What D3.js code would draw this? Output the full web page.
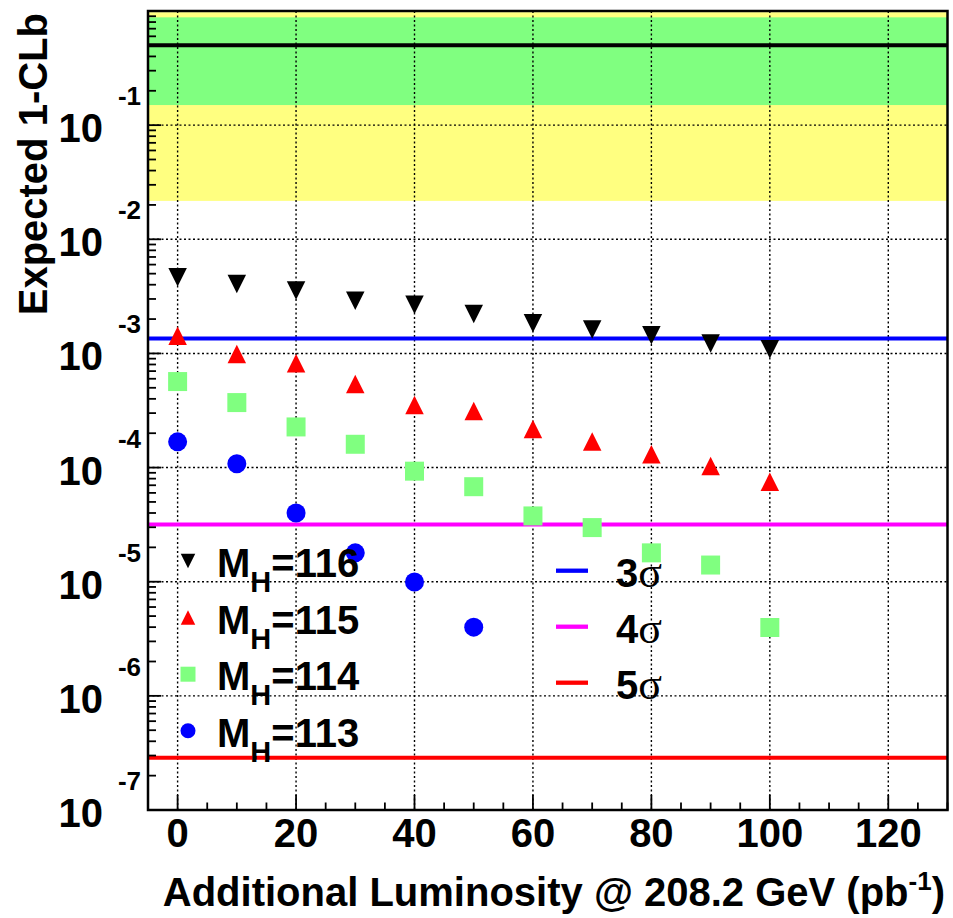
<!DOCTYPE html>
<html><head><meta charset="utf-8">
<script src="https://cdn.jsdelivr.net/npm/d3@7"></script>
<style>html,body{margin:0;padding:0;background:#fff;} text{font-family:"Liberation Sans",Arial,sans-serif;font-weight:bold;}</style>
</head><body>
<script>
// ---- data ----
const lumi = [0,10,20,30,40,50,60,70,80,90,100];
const mh116 = [4.64e-3,4.05e-3,3.55e-3,2.90e-3,2.67e-3,2.21e-3,1.84e-3,1.62e-3,1.44e-3,1.22e-3,1.09e-3];
const mh115 = [1.43e-3,9.9e-4,8.2e-4,5.4e-4,3.53e-4,3.13e-4,2.18e-4,1.69e-4,1.31e-4,1.03e-4,7.5e-5];
const mh114 = [5.67e-4,3.71e-4,2.27e-4,1.60e-4,9.3e-5,6.8e-5,3.77e-5,2.98e-5,1.79e-5,1.40e-5,3.97e-6];
const mh113 = [1.68e-4,1.08e-4,4.0e-5,1.79e-5,9.96e-6,4.0e-6];
const seriesNames = ["116","115","114","113"];
const medianValue = 0.5;
const band1 = [0.150, 0.880];
const band2 = [0.0217, 0.977];
const sigmaNames = ["3","4","5"];
const sigmaValues = [1.35e-3, 3.17e-5, 2.87e-7];
const xTickValues = [0,20,40,60,80,100,120];
const yDecades = [1,2,3,4,5,6,7];

// ---- layout ----
const W = 953, H = 918;
const L = 148, R = 947.5, T = 11, B = 810;
const x = d3.scaleLinear().domain([-5,130]).range([L,R]);
const y = d3.scaleLog().domain([1e-7,1]).range([B,T]);

const svg = d3.select("body").append("svg").attr("width",W).attr("height",H);
svg.append("rect").attr("width",W).attr("height",H).attr("fill","#fff");

const clip = svg.append("clipPath").attr("id","pc").append("rect")
  .attr("x",L).attr("y",T).attr("width",R-L).attr("height",B-T);
const g = svg.append("g").attr("clip-path","url(#pc)");

// bands
g.append("rect").attr("x",L).attr("width",R-L)
  .attr("y",y(band2[1])).attr("height",y(band2[0])-y(band2[1])).attr("fill","#ffff80");
g.append("rect").attr("x",L).attr("width",R-L)
  .attr("y",y(band1[1])).attr("height",y(band1[0])-y(band1[1])).attr("fill","#80ff80");

// grid
xTickValues.forEach(v=>{
  g.append("line").attr("x1",x(v)).attr("x2",x(v)).attr("y1",T).attr("y2",B)
   .attr("stroke","#000").attr("stroke-width",1.4).attr("stroke-dasharray","2,2.5");
});
yDecades.forEach(n=>{
  const yy = y(Math.pow(10,-n));
  g.append("line").attr("x1",L).attr("x2",R).attr("y1",yy).attr("y2",yy)
   .attr("stroke","#000").attr("stroke-width",1.4).attr("stroke-dasharray","2,2.5");
});

// median line
g.append("line").attr("x1",L).attr("x2",R).attr("y1",y(medianValue)).attr("y2",y(medianValue))
  .attr("stroke","#000").attr("stroke-width",4);

// sigma lines
const sigColors = ["#0000ff","#ff00ff","#ff0000"];
sigmaValues.forEach((v,i)=>{
  g.append("line").attr("x1",L).attr("x2",R).attr("y1",y(v)).attr("y2",y(v))
   .attr("stroke",sigColors[i]).attr("stroke-width",4);
});

// markers
function markerPath(type, cx, cy, s){
  const h = s/2;
  if(type==="down") return `M${cx-h},${cy-h}L${cx+h},${cy-h}L${cx},${cy+h}Z`;
  if(type==="up") return `M${cx-h},${cy+h}L${cx+h},${cy+h}L${cx},${cy-h}Z`;
  if(type==="square") return `M${cx-h},${cy-h}h${s}v${s}h${-s}Z`;
  return `M${cx-h},${cy}a${h},${h} 0 1,0 ${s},0a${h},${h} 0 1,0 ${-s},0Z`;
}
const series = [
  {vals:mh116, type:"down", color:"#000000"},
  {vals:mh115, type:"up", color:"#ff0000"},
  {vals:mh114, type:"square", color:"#80ff80"},
  {vals:mh113, type:"circle", color:"#0000ff"}
];
series.forEach(s=>{
  g.selectAll(null).data(s.vals).enter().append("path")
   .attr("d",(d,i)=>markerPath(s.type, x(lumi[i]), y(d), s.type==="square"?19:(s.type==="circle"?19:18.5)))
   .attr("fill",s.color);
});

// frame
svg.append("rect").attr("x",L).attr("y",T).attr("width",R-L).attr("height",B-T)
  .attr("fill","none").attr("stroke","#000").attr("stroke-width",2.5);

// x ticks
d3.range(-5,131,5).forEach(v=>{
  const major = v%20===0;
  svg.append("line").attr("x1",x(v)).attr("x2",x(v)).attr("y1",B).attr("y2",B-(major?15:7.5))
    .attr("stroke","#000").attr("stroke-width",1.8);
});
xTickValues.forEach(v=>{
  svg.append("text").attr("x",x(v)).attr("y",847).attr("text-anchor","middle")
    .attr("font-size",40).text(v);
});

// y ticks
for(let n=7;n>=1;n--){
  const base = Math.pow(10,-n);
  for(let k=1;k<=9;k++){
    const v = base*k;
    if(v>1) continue;
    svg.append("line").attr("x1",L).attr("x2",L+(k===1?13:8)).attr("y1",y(v)).attr("y2",y(v))
      .attr("stroke","#000").attr("stroke-width",1.8);
  }
}
yDecades.forEach(n=>{
  const yy = y(Math.pow(10,-n));
  svg.append("text").attr("x",103).attr("y",yy+17).attr("text-anchor","end")
    .attr("font-size",40).text("10");
  svg.append("text").attr("x",141).attr("y",yy-20).attr("text-anchor","end")
    .attr("font-size",26).text("-"+n);
});

// axis titles
svg.append("text").attr("transform","translate(47,13) rotate(-90)")
  .attr("text-anchor","end").attr("font-size",40).text("Expected 1-CLb");
const xt = svg.append("text").attr("x",945).attr("y",906).attr("text-anchor","end").attr("font-size",40);
xt.append("tspan").text("Additional Luminosity @ 208.2 GeV (pb");
xt.append("tspan").attr("font-size",26).attr("dy",-16).text("-1");
xt.append("tspan").attr("dy",16).text(")");

// left legend
const legTypes = ["down","up","square","circle"];
const legColors = ["#000000","#ff0000","#80ff80","#0000ff"];
seriesNames.forEach((nm,i)=>{
  const ry = 561 + i*56.6;
  svg.append("path").attr("d",markerPath(legTypes[i],188,ry,legTypes[i]==="down"||legTypes[i]==="up"?14.5:15)).attr("fill",legColors[i]);
  const t = svg.append("text").attr("x",217).attr("y",ry+16).attr("font-size",40);
  t.append("tspan").text("M");
  t.append("tspan").attr("font-size",29).attr("dy",15).text("H");
  t.append("tspan").attr("dy",-15).text("="+nm);
});

// right legend
sigmaNames.forEach((nm,i)=>{
  const ry = 570.7 + i*56;
  svg.append("line").attr("x1",556).attr("x2",588).attr("y1",ry).attr("y2",ry)
    .attr("stroke",sigColors[i]).attr("stroke-width",4.3);
  const t = svg.append("text").attr("x",616).attr("y",ry+16).attr("font-size",40);
  t.append("tspan").text(nm);
  t.append("tspan").attr("font-family","'Liberation Serif','DejaVu Serif',serif").attr("font-weight","normal").attr("font-size",44).text("σ");
});
</script>
</body></html>
